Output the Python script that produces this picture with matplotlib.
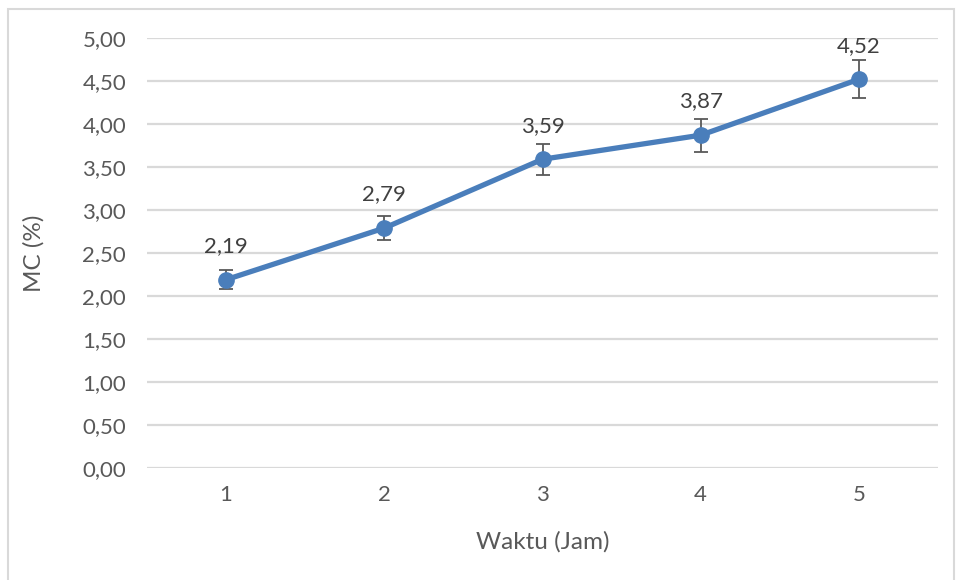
import matplotlib.pyplot as plt
from matplotlib.patches import Rectangle

waktu = [1, 2, 3, 4, 5]
mc = [2.19, 2.79, 3.59, 3.87, 4.52]
mc_err = [0.11, 0.14, 0.18, 0.19, 0.22]
y_ticks = [0, 0.5, 1, 1.5, 2, 2.5, 3, 3.5, 4, 4.5, 5]

plt.rcParams['font.family'] = ['Lato', 'DejaVu Sans']

fig = plt.figure(figsize=(9.56, 5.8), dpi=100)
ax = fig.add_axes([147 / 956, 1 - 468 / 580, 791 / 956, 430 / 580])

# chart area border
fig.patches.append(Rectangle((8 / 956, -0.05), 946 / 956, 1.05 - 9 / 580,
                             transform=fig.transFigure, fill=False,
                             edgecolor='#d9d9d9', linewidth=1.5))

ax.errorbar(waktu, mc, yerr=mc_err, fmt='none', ecolor='#595959',
            elinewidth=1.3, capsize=5, capthick=1.3, zorder=2)
ax.plot(waktu, mc, color='#4A7EBB', linewidth=3.8, marker='o',
        markersize=11, zorder=3)

for x, y in zip(waktu, mc):
    ax.annotate(f'{y:.2f}'.replace('.', ','), (x, y), xytext=(0, 17),
                textcoords='offset points', ha='center', va='bottom',
                fontsize=16, color='#404040')

ax.set_xlim(0.5, 5.5)
ax.set_ylim(0, 5)
ax.set_yticks(y_ticks)
ax.set_yticklabels([f'{t:.2f}'.replace('.', ',') for t in y_ticks])
ax.set_xticks(waktu)
ax.grid(axis='y', color='#d9d9d9', linewidth=1.6)
ax.set_axisbelow(True)
for s in ax.spines.values():
    s.set_visible(False)
ax.tick_params(length=0, labelsize=16, labelcolor='#595959')
ax.tick_params(axis='y', pad=15)
ax.tick_params(axis='x', pad=12)

ax.set_xlabel('Waktu (Jam)', fontsize=17.5, color='#595959', labelpad=19)
ax.set_ylabel('MC (%)', fontsize=17.5, color='#595959', labelpad=27)

fig.savefig('out.png', dpi=100)
